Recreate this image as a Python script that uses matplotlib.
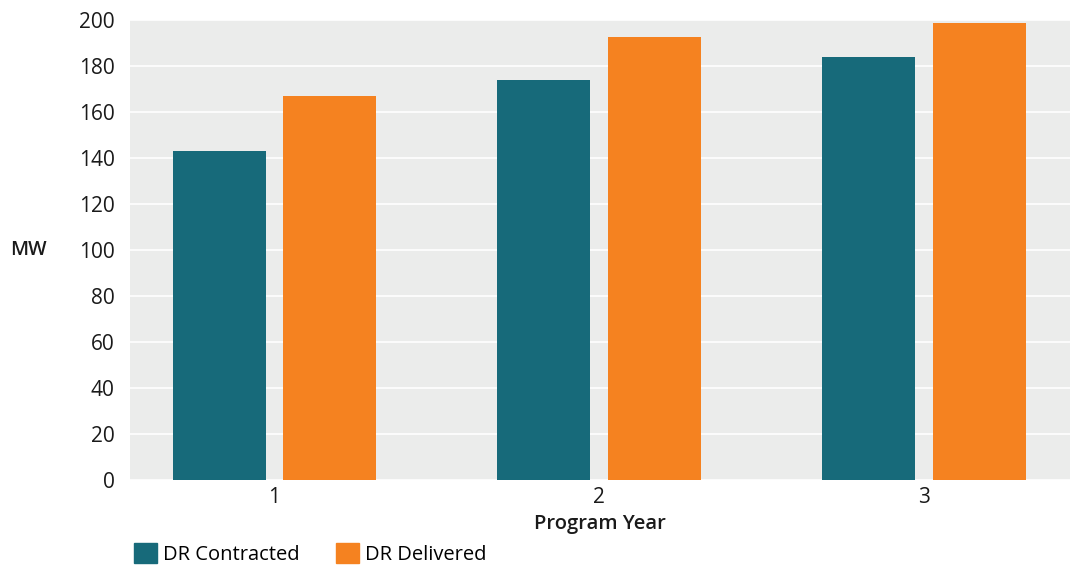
import numpy as np
import matplotlib.pyplot as plt
from matplotlib.patches import Patch

# data
years = ['1', '2', '3']
contracted = [143, 174, 184]
delivered = [167, 192.5, 198.5]

teal = '#176a7a'
orange = '#f58220'

plt.rcParams['font.family'] = ['Open Sans', 'DejaVu Sans']

fig = plt.figure(figsize=(10.70, 5.69), dpi=100)
ax = fig.add_axes([0.1215, 0.1564, 0.8785, 0.8085])
ax.set_facecolor('#ebeceb')

x = np.arange(1, len(years) + 1)
w = 0.286
gap = 0.055
ax.bar(x - (w + gap) / 2, contracted, w, color=teal, zorder=3)
ax.bar(x + (w + gap) / 2, delivered, w, color=orange, zorder=3)

ax.set_ylim(0, 200)
ax.set_xlim(0.555, 3.45)
ax.set_yticks(np.arange(0, 201, 20))
ax.set_xticks(x)
ax.set_xticklabels(years)
ax.yaxis.grid(True, color='white', linewidth=1.2, zorder=0)
ax.tick_params(axis='both', length=0, labelsize=15, colors='#1a1a1a')
ax.tick_params(axis='y', pad=11)
ax.tick_params(axis='x', pad=5)
for s in ax.spines.values():
    s.set_visible(False)

ax.set_xlabel('Program Year', fontsize=14.5, fontweight='semibold', color='#1a1a1a', labelpad=4)
fig.text(0.009, 0.56, 'MW', fontsize=14, fontweight='semibold', color='#1a1a1a', va='center')

handles = [Patch(color=teal, label='DR Contracted'), Patch(color=orange, label='DR Delivered')]
fig.legend(handles=handles, loc='lower left', bbox_to_anchor=(0.108, -0.025), ncol=2,
           frameon=False, fontsize=14.5, handlelength=1.15, handleheight=1.15,
           handletextpad=0.3, columnspacing=1.8)

fig.savefig('out.png', dpi=100)
